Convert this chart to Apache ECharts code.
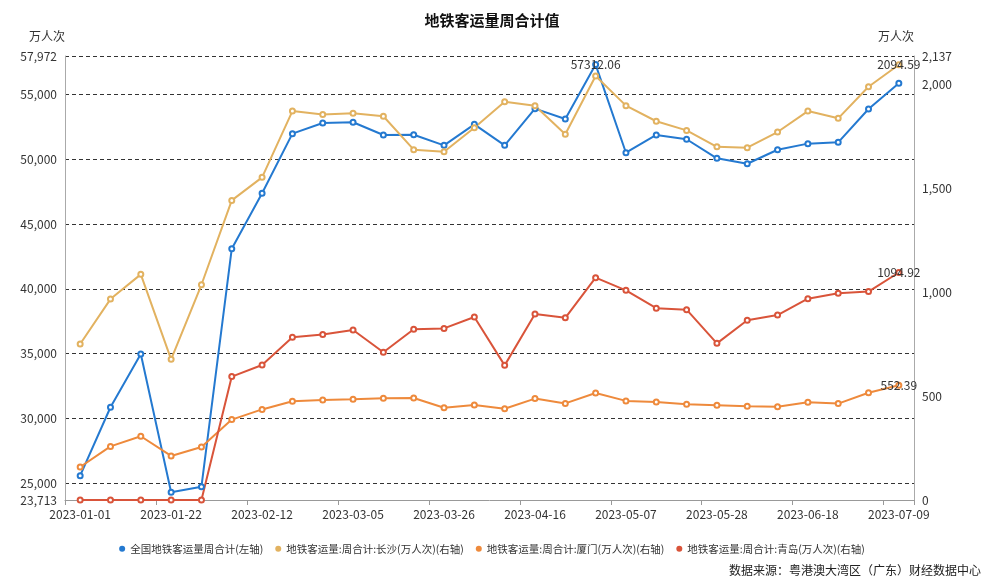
<!DOCTYPE html>
<html>
<head>
<meta charset="utf-8">
<script src="https://cdn.jsdelivr.net/npm/echarts@6/dist/echarts.min.js"></script>
<style>
html,body{margin:0;padding:0;background:#fff;}
#c{width:984px;height:576px;}
</style>
</head>
<body>
<div id="c"></div>
<script>
var categories = ['2023-01-01','2023-01-08','2023-01-15','2023-01-22','2023-01-29','2023-02-05','2023-02-12','2023-02-19','2023-02-26','2023-03-05','2023-03-12','2023-03-19','2023-03-26','2023-04-02','2023-04-09','2023-04-16','2023-04-23','2023-04-30','2023-05-07','2023-05-14','2023-05-21','2023-05-28','2023-06-04','2023-06-11','2023-06-18','2023-06-25','2023-07-02','2023-07-09'];
var nationalTotal = [25590, 30870, 34980, 24310, 24740, 43100, 47380, 51980, 52800, 52860, 51880, 51900, 51080, 52700, 51080, 53910, 53110, 57312.06, 50510, 51880, 51550, 50080, 49660, 50740, 51210, 51310, 53880, 55870];
var changsha = [751, 967, 1086, 677, 1036, 1442, 1553, 1872, 1855, 1861, 1847, 1686, 1676, 1792, 1917, 1898, 1760, 2041, 1898, 1823, 1779, 1700, 1696, 1771, 1872, 1837, 1989, 2094.59];
var xiamen = [159, 258, 307, 212, 255, 387, 436, 475, 481, 485, 490, 491, 444, 457, 439, 488, 465, 515, 477, 472, 461, 456, 451, 449, 470, 464, 516, 552.39];
var qingdao = [0, 0, 0, 0, 0, 594, 650, 783, 797, 818, 711, 822, 826, 881, 648, 895, 877, 1070, 1009, 923, 916, 754, 865, 890, 969, 995, 1003, 1094.92];
var leftTicks = [23713, 25000, 30000, 35000, 40000, 45000, 50000, 55000, 57972];
var rightTicks = [0, 500, 1000, 1500, 2000, 2137];
var seriesNames = ['全国地铁客运量周合计(左轴)', '地铁客运量:周合计:长沙(万人次)(右轴)', '地铁客运量:周合计:厦门(万人次)(右轴)', '地铁客运量:周合计:青岛(万人次)(右轴)'];
var colors = ['#2479d0', '#e2b260', '#ee8a3c', '#d9543a'];
var FONT = '"Noto Sans CJK SC", "Noto Sans", sans-serif';

function withMaxLabel(arr) {
  var mx = Math.max.apply(null, arr);
  var idx = arr.indexOf(mx);
  return arr.map(function (v, i) {
    if (i === idx) {
      return { value: v, label: { show: true, position: 'inside', formatter: String(v), color: '#333', fontSize: 12, fontFamily: FONT } };
    }
    return v;
  });
}

function mkSeries(i, data, yIdx) {
  return {
    name: seriesNames[i],
    type: 'line',
    yAxisIndex: yIdx,
    data: withMaxLabel(data),
    symbol: 'emptyCircle',
    symbolSize: 5,
    lineStyle: { width: 2, color: colors[i] },
    itemStyle: { color: colors[i], borderWidth: 1.5 },
    label: { show: false },
    emphasis: { disabled: true },
    animation: false
  };
}

var chart = echarts.init(document.getElementById('c'));
chart.setOption({
  color: colors,
  textStyle: { fontFamily: FONT },
  title: [
    { text: '地铁客运量周合计值', left: 'center', top: 8, textStyle: { fontSize: 15, fontWeight: 'bold', color: '#111', fontFamily: FONT } },
    { text: '数据来源：粤港澳大湾区（广东）财经数据中心', right: 3, bottom: 0, padding: 0, textStyle: { fontSize: 12, fontWeight: 'normal', color: '#222', fontFamily: FONT } }
  ],
  legend: {
    bottom: 17,
    left: 'center',
    icon: 'circle',
    itemWidth: 6,
    itemHeight: 6,
    itemGap: 12,
    textStyle: { fontSize: 10.5, color: '#333', fontFamily: FONT },
    data: seriesNames
  },
  grid: { left: 65, right: 70, top: 56, bottom: 76 },
  xAxis: {
    type: 'category',
    data: categories,
    boundaryGap: true,
    axisLine: { lineStyle: { color: '#999' } },
    axisTick: { show: true, interval: 2, length: 5, lineStyle: { color: '#999' } },
    axisLabel: { interval: 2, color: '#333', fontSize: 12, margin: 8, fontFamily: FONT },
    splitLine: { show: false }
  },
  yAxis: [
    {
      type: 'value',
      min: 23713,
      max: 57972,
      name: '万人次',
      nameLocation: 'end',
      nameGap: 14,
      nameTextStyle: { color: '#333', fontSize: 12, align: 'right', fontFamily: FONT },
      axisLine: { show: true, lineStyle: { color: '#aaa' } },
      axisTick: { show: false, customValues: leftTicks },
      axisLabel: { customValues: leftTicks, color: '#333', fontSize: 12, fontFamily: FONT, formatter: function (v) { return v.toLocaleString('en-US'); } },
      splitLine: { show: true, lineStyle: { color: '#333', type: [4, 3], width: 1 } }
    },
    {
      type: 'value',
      min: 0,
      max: 2137,
      position: 'right',
      name: '万人次',
      nameLocation: 'end',
      nameGap: 14,
      nameTextStyle: { color: '#333', fontSize: 12, align: 'right', fontFamily: FONT },
      axisLine: { show: true, lineStyle: { color: '#aaa' } },
      axisTick: { show: false, customValues: rightTicks },
      axisLabel: { customValues: rightTicks, color: '#333', fontSize: 12, fontFamily: FONT, formatter: function (v) { return v.toLocaleString('en-US'); } },
      splitLine: { show: false }
    }
  ],
  series: [
    mkSeries(0, nationalTotal, 0),
    mkSeries(1, changsha, 1),
    mkSeries(2, xiamen, 1),
    mkSeries(3, qingdao, 1)
  ]
});
</script>
</body>
</html>
